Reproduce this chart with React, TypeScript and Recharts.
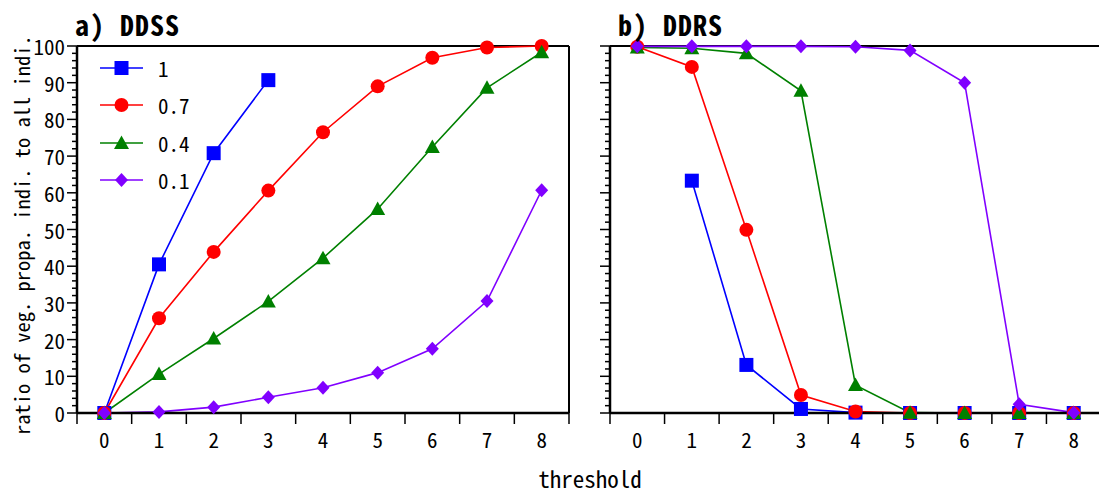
import { LineChart, Line, XAxis, YAxis, ReferenceLine } from "recharts";

const thresholds = [0, 1, 2, 3, 4, 5, 6, 7, 8];
const seriesNames = ["1", "0.7", "0.4", "0.1"];
const seriesColors = ["#0000ff", "#ff0000", "#008000", "#8000ff"];
const seriesShapes = ["square", "circle", "triangle", "diamond"];

// a) DDSS
const ddss1 = [0, 40.5, 70.8, 90.7, null, null, null, null, null];
const ddss07 = [0, 25.8, 43.9, 60.6, 76.5, 89.0, 96.8, 99.6, 100];
const ddss04 = [0, 10.6, 20.3, 30.4, 42.2, 55.6, 72.5, 88.6, 98.3];
const ddss01 = [0, 0.3, 1.6, 4.3, 6.9, 11.0, 17.5, 30.5, 60.7];

// b) DDRS
const ddrs1 = [null, 63.3, 13.1, 1.1, 0.1, 0, 0, 0, 0];
const ddrs07 = [99.8, 94.3, 49.9, 4.9, 0.4, 0, 0, 0, 0];
const ddrs04 = [99.6, 99.4, 98.0, 87.8, 7.6, 0.1, 0, 0, 0];
const ddrs01 = [99.9, 99.9, 99.9, 99.9, 99.8, 98.8, 90.0, 2.4, 0.1];

const xTicks = [-0.5, 0, 0.5, 1, 1.5, 2, 2.5, 3, 3.5, 4, 4.5, 5, 5.5, 6, 6.5, 7, 7.5, 8, 8.5];
const yTicks = Array.from({ length: 51 }, (_, i) => i * 2);

const FONT = "'Noto Sans Mono CJK JP', 'DejaVu Sans Mono', monospace";
const keys = ["s1", "s07", "s04", "s01"];

function buildRows(cols: (number | null)[][]) {
  return thresholds.map((t, i) => {
    const row: Record<string, number | null> = { t };
    keys.forEach((k, j) => (row[k] = cols[j][i]));
    return row;
  });
}

const ddssData = buildRows([ddss1, ddss07, ddss04, ddss01]);
const ddrsData = buildRows([ddrs1, ddrs07, ddrs04, ddrs01]);

function marker(shape: string, cx: number, cy: number, color: string, key?: string) {
  if (shape === "square")
    return <rect key={key} x={cx - 7} y={cy - 7} width={14} height={14} fill={color} />;
  if (shape === "circle") return <circle key={key} cx={cx} cy={cy} r={7} fill={color} />;
  if (shape === "triangle")
    return (
      <polygon
        key={key}
        points={`${cx},${cy - 7.5} ${cx - 7.5},${cy + 6} ${cx + 7.5},${cy + 6}`}
        fill={color}
      />
    );
  return (
    <polygon
      key={key}
      points={`${cx},${cy - 7} ${cx + 6.5},${cy} ${cx},${cy + 7} ${cx - 6.5},${cy}`}
      fill={color}
    />
  );
}

function dotFor(shape: string, color: string) {
  return (props: any) => {
    const key = `d-${props.index}`;
    if (props.cx == null || props.cy == null || props.value == null) return <g key={key} />;
    return marker(shape, props.cx, props.cy, color, key);
  };
}

function XTick({ x, y, payload }: any) {
  const v = payload.value;
  if (Math.abs(v - Math.round(v)) < 1e-6) {
    return (
      <text x={x} y={y + 26} textAnchor="middle" dominantBaseline="central" fontSize={21} fontFamily={FONT} fill="#000">
        {Math.round(v)}
      </text>
    );
  }
  return <line x1={x} x2={x} y1={y} y2={y + 11} stroke="#000" strokeWidth={1.5} />;
}

function YTick({ x, y, payload, showLabels }: any) {
  const v = payload.value;
  const major = v % 10 === 0;
  return (
    <g>
      <line x1={x} x2={x - (major ? 10 : 5)} y1={y} y2={y} stroke="#000" strokeWidth={1.5} />
      {major && showLabels && (
        <text x={x - 12} y={y} textAnchor="end" dominantBaseline="central" fontSize={21} fontFamily={FONT} fill="#000">
          {v}
        </text>
      )}
    </g>
  );
}

function Panel({ data, showLabels, width, yWidth, margin }: any) {
  return (
    <LineChart width={width} height={495} data={data} margin={margin}>
      <XAxis
        dataKey="t"
        type="number"
        domain={[-0.5, 8.5]}
        ticks={xTicks}
        interval={0}
        height={40}
        tickSize={0}
        tickMargin={0}
        tickLine={false}
        axisLine={{ stroke: "#000", strokeWidth: 2.5 }}
        tick={<XTick />}
      />
      <YAxis
        type="number"
        domain={[0, 100]}
        ticks={yTicks}
        interval={0}
        width={yWidth}
        tickSize={0}
        tickMargin={0}
        tickLine={false}
        axisLine={{ stroke: "#000", strokeWidth: 2.5 }}
        tick={<YTick showLabels={showLabels} />}
      />
      <ReferenceLine y={100} stroke="#000" strokeWidth={2} />
      <ReferenceLine x={8.5} stroke="#000" strokeWidth={2} />
      {keys.map((k, i) => (
        <Line
          key={k}
          dataKey={k}
          stroke={seriesColors[i]}
          strokeWidth={1.6}
          dot={dotFor(seriesShapes[i], seriesColors[i])}
          activeDot={false}
          isAnimationActive={false}
        />
      ))}
    </LineChart>
  );
}

export default function App() {
  const legendRows = [68, 105, 143, 180];
  return (
    <div
      style={{
        position: "fixed",
        left: 0,
        top: 0,
        width: 1099,
        height: 495,
        overflow: "hidden",
        background: "#fff",
      }}
    >
      <div style={{ position: "absolute", left: 0, top: 0 }}>
        <Panel
          data={ddssData}
          showLabels
          width={580}
          yWidth={50}
          margin={{ top: 46, right: 11, bottom: 42, left: 27 }}
        />
      </div>
      <div style={{ position: "absolute", left: 560, top: 0 }}>
        <Panel
          data={ddrsData}
          showLabels={false}
          width={560}
          yWidth={20}
          margin={{ top: 46, right: 19, bottom: 42, left: 30 }}
        />
      </div>
      <svg width={1099} height={460} style={{ position: "absolute", left: 0, top: 0, pointerEvents: "none" }}>
        <text x={75} y={36} fontSize={28} fontWeight="bold" fontFamily={FONT} letterSpacing={1}>
          a) DDSS
        </text>
        <text x={618} y={36} fontSize={28} fontWeight="bold" fontFamily={FONT} letterSpacing={1}>
          b) DDRS
        </text>
        <text
          x={21}
          y={235}
          transform="rotate(-90 21 235)"
          textAnchor="middle"
          dominantBaseline="central"
          fontSize={20.5}
          fontFamily={FONT}
        >
          ratio of veg. propa. indi. to all indi.
        </text>
        {seriesNames.map((name, i) => (
          <g key={name}>
            <line x1={100} x2={143} y1={legendRows[i]} y2={legendRows[i]} stroke={seriesColors[i]} strokeWidth={1.6} />
            {marker(seriesShapes[i], 121.5, legendRows[i], seriesColors[i])}
            <text x={158} y={legendRows[i]} dominantBaseline="central" fontSize={21} fontFamily={FONT}>
              {name}
            </text>
          </g>
        ))}
      </svg>
      <div
        style={{
          position: "absolute",
          left: 490,
          top: 464,
          width: 200,
          textAlign: "center",
          fontFamily: FONT,
          fontSize: 23,
          lineHeight: "28px",
          color: "#000",
        }}
      >
        threshold
      </div>
    </div>
  );
}
